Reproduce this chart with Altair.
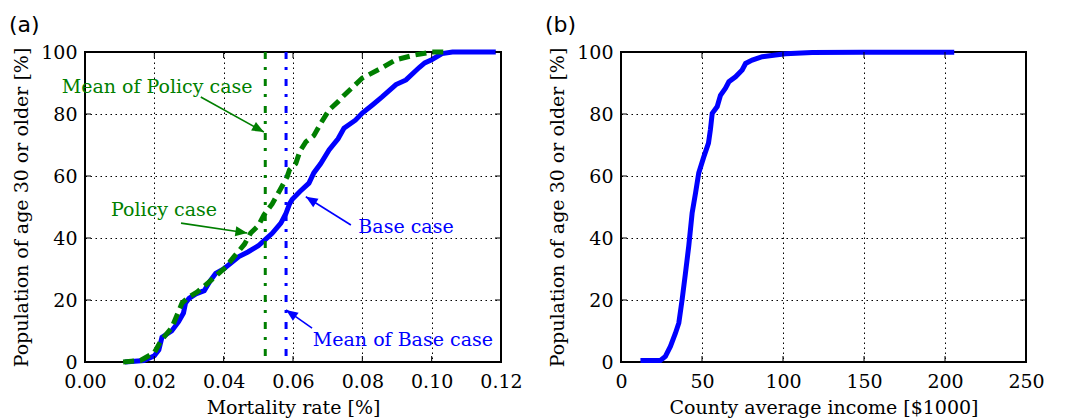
import math
import altair as alt
import pandas as pd

# ---------------- data ----------------
base_rate = [0.0115, 0.017, 0.020, 0.0213, 0.0222, 0.025, 0.027, 0.0284, 0.029, 0.030, 0.032,
             0.0344, 0.036, 0.0377, 0.040, 0.0444, 0.047, 0.050, 0.0519, 0.054, 0.0565, 0.058,
             0.059, 0.0598, 0.062, 0.0646, 0.066, 0.068, 0.0704, 0.073, 0.0747, 0.078, 0.080,
             0.083, 0.0857, 0.0897, 0.0926, 0.0964, 0.098, 0.100, 0.103, 0.106, 0.1185]
base_pop = [0, 0.5, 2, 3.9, 8, 10, 13, 15.8, 19, 20.5, 22,
            23, 26, 28.6, 30, 34, 35.5, 37.5, 39.4, 41.5, 44.8, 48,
            51, 52.5, 55, 57.7, 61, 64, 68.4, 72, 75.4, 78, 80.3,
            83, 85.5, 89.5, 91, 95, 96.5, 97.5, 99.5, 100, 100]

policy_rate = [0.011, 0.016, 0.020, 0.022, 0.025, 0.028, 0.030, 0.0324, 0.036, 0.0406, 0.043,
               0.046, 0.0478, 0.050, 0.0516, 0.054, 0.056, 0.0583, 0.059, 0.0608, 0.062, 0.0637,
               0.066, 0.068, 0.0704, 0.073, 0.0747, 0.080, 0.085, 0.0897, 0.095, 0.100, 0.105]
policy_pop = [0, 0.5, 3, 7, 11, 19, 21, 22.6, 26, 30.6, 34,
              38, 41.6, 44, 47.4, 51, 55, 59.7, 62, 64, 68, 71,
              73, 77, 81.3, 84, 86, 91.6, 94.5, 97.5, 99, 100, 100]

mean_policy = 0.052
mean_base = 0.058

income = [12, 24.3, 27.4, 30.5, 33.6, 35.7, 37.7, 39.8, 41.8, 43.9, 46, 48, 51, 54, 55.2, 56.3,
          59.4, 61.4, 64.5, 66.6, 70.7, 74.8, 76.9, 81, 87.2, 95.4, 101.6, 118, 149, 205.7]
income_pop = [0.5, 0.5, 1.8, 5, 9.3, 12.6, 20, 28.7, 37.3, 48, 54.5, 61, 66, 70.6, 75, 80.2,
              82.4, 86, 88.3, 90.4, 92, 94.2, 96.3, 97.4, 98.5, 99, 99.4, 99.8, 99.9, 99.9]

# annotations (panel a): label, text position, arrow tail, arrow tip
ann_label = ["Mean of Policy case", "Policy case", "Base case", "Mean of Base case"]
ann_text_x = [0.0208, 0.0228, 0.0926, 0.0917]
ann_text_y = [88.7, 49.0, 43.5, 7.1]
ann_tail_x = [0.0334, 0.0277, 0.0767, 0.0655]
ann_tail_y = [85.5, 44.8, 44.2, 10.9]
ann_tip_x = [0.0516, 0.0468, 0.0637, 0.058]
ann_tip_y = [74.2, 41.6, 53.3, 16.8]
ann_color = ["#007f00", "#007f00", "#0000ff", "#0000ff"]

a_ticks_x = [0.0, 0.02, 0.04, 0.06, 0.08, 0.10, 0.12]
b_ticks_x = [0, 50, 100, 150, 200, 250]
ticks_y = [0, 20, 40, 60, 80, 100]

# ---------------- style ----------------
W_A, W_B, H = 416, 405, 310
SERIF = "DejaVu Serif"
GREEN = "#007f00"
BLUE = "#0000ff"

xa_scale = alt.Scale(domain=[0, 0.12], nice=False, zero=False)
xb_scale = alt.Scale(domain=[0, 250], nice=False, zero=False)
y_scale = alt.Scale(domain=[0, 100], nice=False)


def inner_ticks(xvals, width, xscale):
    dx = pd.DataFrame({"v": xvals})
    dy = pd.DataFrame({"v": ticks_y})
    bot = alt.Chart(dx).mark_rule(color="black", strokeWidth=1).encode(
        x=alt.X("v:Q", scale=xscale), y=alt.value(H), y2=alt.value(H - 6))
    top = alt.Chart(dx).mark_rule(color="black", strokeWidth=1).encode(
        x=alt.X("v:Q", scale=xscale), y=alt.value(0), y2=alt.value(6))
    left = alt.Chart(dy).mark_rule(color="black", strokeWidth=1).encode(
        y=alt.Y("v:Q", scale=y_scale), x=alt.value(0), x2=alt.value(6))
    right = alt.Chart(dy).mark_rule(color="black", strokeWidth=1).encode(
        y=alt.Y("v:Q", scale=y_scale), x=alt.value(width), x2=alt.value(width - 6))
    return [bot, top, left, right]


def panel_label(txt):
    return alt.Chart(pd.DataFrame({"t": [txt]})).mark_text(
        font="DejaVu Sans", fontSize=22, align="left", baseline="middle", color="black"
    ).encode(text="t:N", x=alt.value(-76), y=alt.value(-27))


# ---------------- panel (a) ----------------
df_base = pd.DataFrame({"x": base_rate, "y": base_pop})
df_pol = pd.DataFrame({"x": policy_rate, "y": policy_pop})

x_a = alt.X("x:Q", scale=xa_scale, title="Mortality rate [%]",
            axis=alt.Axis(values=a_ticks_x, format=".2f", labelPadding=10, titlePadding=7))
y_a = alt.Y("y:Q", scale=y_scale, title="Population of age 30 or older [%]",
            axis=alt.Axis(values=ticks_y, labelPadding=8, titlePadding=9))

base_line = alt.Chart(df_base).mark_line(color=BLUE, strokeWidth=5).encode(x=x_a, y=y_a)
pol_line = alt.Chart(df_pol).mark_line(color=GREEN, strokeWidth=5, strokeDash=[11, 6]).encode(
    x=alt.X("x:Q", scale=xa_scale), y=alt.Y("y:Q", scale=y_scale))

mean_df = pd.DataFrame({"x": [mean_policy, mean_base], "c": [GREEN, BLUE]})
mean_lines = alt.Chart(mean_df).mark_rule(strokeWidth=3, strokeDash=[7, 8, 3, 9]).encode(
    x=alt.X("x:Q", scale=xa_scale), color=alt.Color("c:N", scale=None))

ann_df = pd.DataFrame({
    "label": ann_label, "tx": ann_text_x, "ty": ann_text_y,
    "x0": ann_tail_x, "y0": ann_tail_y, "x1": ann_tip_x, "y1": ann_tip_y, "c": ann_color,
})
angles = []
for x0, y0, x1, y1 in zip(ann_tail_x, ann_tail_y, ann_tip_x, ann_tip_y):
    dx = (x1 - x0) / 0.12 * W_A
    dy = -(y1 - y0) / 100 * H
    angles.append(math.degrees(math.atan2(dx, -dy)) % 360)
ann_df["ang"] = angles

ann_text = alt.Chart(ann_df).mark_text(font=SERIF, fontSize=19, align="center", baseline="middle").encode(
    x=alt.X("tx:Q", scale=xa_scale), y=alt.Y("ty:Q", scale=y_scale), text="label:N",
    color=alt.Color("c:N", scale=None))
ann_shaft = alt.Chart(ann_df).mark_rule(strokeWidth=1.6).encode(
    x=alt.X("x0:Q", scale=xa_scale), y=alt.Y("y0:Q", scale=y_scale),
    x2="x1:Q", y2="y1:Q", color=alt.Color("c:N", scale=None))
ann_head = alt.Chart(ann_df).mark_point(
    shape="M0,0L-0.42,1L0.42,1Z", filled=True, opacity=1, size=560, strokeWidth=0
).encode(
    x=alt.X("x1:Q", scale=xa_scale), y=alt.Y("y1:Q", scale=y_scale),
    angle=alt.Angle("ang:Q", scale=None), color=alt.Color("c:N", scale=None))

panel_a = alt.layer(
    base_line, mean_lines, pol_line, ann_shaft, ann_head, ann_text,
    *inner_ticks(a_ticks_x, W_A, xa_scale), panel_label("(a)")
).properties(width=W_A, height=H)

# ---------------- panel (b) ----------------
df_inc = pd.DataFrame({"x": income, "y": income_pop})
x_b = alt.X("x:Q", scale=xb_scale, title="County average income [$1000]",
            axis=alt.Axis(values=b_ticks_x, format="d", labelPadding=10, titlePadding=7))
y_b = alt.Y("y:Q", scale=y_scale, title="Population of age 30 or older [%]",
            axis=alt.Axis(values=ticks_y, labelPadding=8, titlePadding=9))
inc_line = alt.Chart(df_inc).mark_line(color=BLUE, strokeWidth=5).encode(x=x_b, y=y_b)

panel_b = alt.layer(
    inc_line, *inner_ticks(b_ticks_x, W_B, xb_scale), panel_label("(b)")
).properties(width=W_B, height=H)

chart = alt.hconcat(panel_a, panel_b, spacing=20).properties(
    padding={"left": 0, "top": 5, "right": 0, "bottom": 0}, background="white"
).configure_view(
    stroke="black", strokeWidth=2
).configure_axis(
    grid=True, gridColor="black", gridDash=[1.5, 3.5], gridWidth=1, gridOpacity=1,
    domain=False, ticks=False, labelFlush=False, labelOverlap=False,
    labelFont=SERIF, labelFontSize=19, labelColor="black",
    titleFont=SERIF, titleFontSize=19, titleFontWeight="normal", titleColor="black",
)

chart.save("out.html", embed_options={"renderer": "svg", "actions": False})
